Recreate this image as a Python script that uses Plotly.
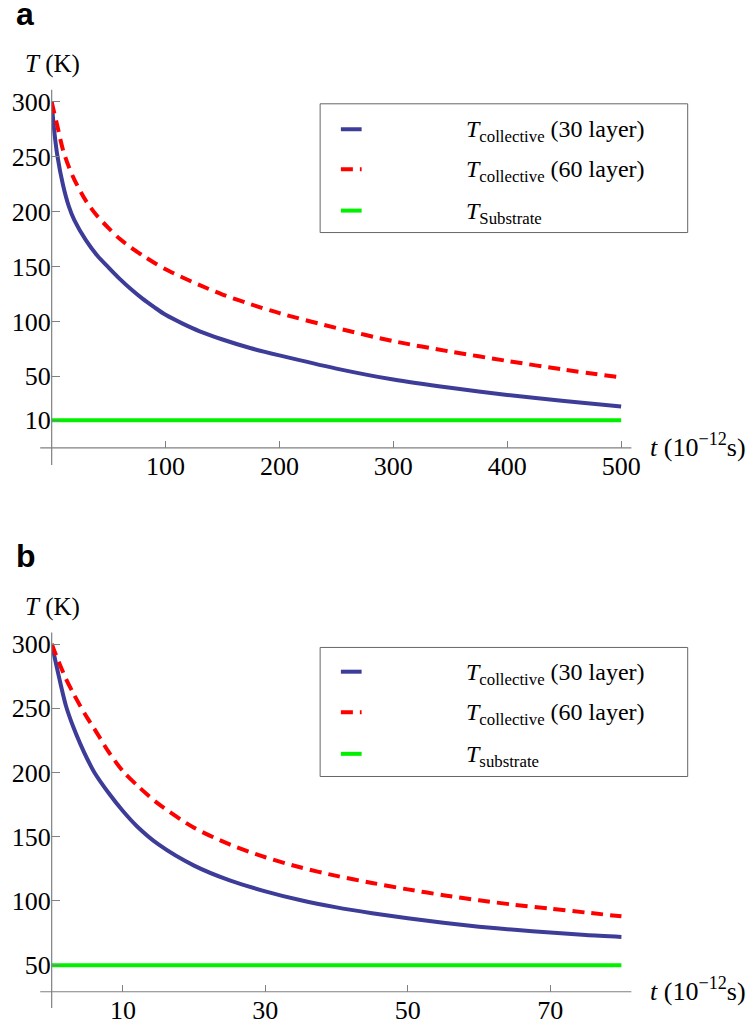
import plotly.graph_objects as go

W, H = 754, 1029

# ---- panel a: 0-500 ps, substrate at 10 K ----
t_a = [0, 2, 5, 10, 15, 20, 30, 40, 50, 60, 70, 80, 90, 100, 115, 130, 150, 175, 200,
       250, 300, 350, 400, 450, 500]
T30_a = [300, 276, 251, 224, 205, 192, 174, 160, 149, 138.5, 129, 120.5, 113, 106, 98,
         91, 83.5, 75.5, 69, 57, 47, 39.5, 33, 27.5, 22.5]
T60_a = [300, 291, 278, 256, 241, 229, 210, 196, 185, 175, 167, 160, 153.5, 147.5, 140,
         133, 124.5, 115.5, 107.5, 94, 82, 72.5, 64, 56, 49]
Tsub_a = 10
xticks_a = [100, 200, 300, 400, 500]
yticks_a = [10, 50, 100, 150, 200, 250, 300]

# ---- panel b: 0-80 ps, substrate at 50 K ----
t_b = [0, 1, 2, 3, 4, 5, 6, 8, 10, 12, 15, 20, 25, 30, 35, 40, 45, 50, 55, 60, 65, 70, 75, 80]
T30_b = [300, 275, 252, 236, 222.5, 210.5, 200, 184, 170, 158, 144, 127.5, 116, 107.5,
         100.5, 95, 90.5, 86.5, 83, 80, 77.5, 75.5, 73.5, 72]
T60_b = [300, 286, 273, 262, 252, 242.5, 234, 216, 201, 190, 175.5, 157, 144, 134, 126,
         119.5, 114, 109, 104.5, 100.5, 97, 94, 91, 88]
Tsub_b = 50
xticks_b = [10, 30, 50, 70]
yticks_b = [50, 100, 150, 200, 250, 300]

legend_a = ["<i>T</i><sub>collective</sub> (30 layer)",
            "<i>T</i><sub>collective</sub> (60 layer)",
            "<i>T</i><sub>Substrate</sub>"]
legend_b = ["<i>T</i><sub>collective</sub> (30 layer)",
            "<i>T</i><sub>collective</sub> (60 layer)",
            "<i>T</i><sub>substrate</sub>"]

BLUE = "#3d3d99"
RED = "#ff0000"
GREEN = "#00f000"
AXIS = "#808080"
SERIF = "Liberation Serif, Times New Roman, serif"
SANS = "Liberation Sans, Arial, sans-serif"
TICK_FS = 26
LEG_FS = 24
TITLE_FS = 25


def px(x):
    return x / W


def py(y):
    return 1 - y / H


fig = go.Figure()

panels = [
    dict(t=t_a, T30=T30_a, T60=T60_a, Tsub=Tsub_a, xr=[0, 509], yr=[-15.2, 311],
         top=88, bot=446.7, xt=xticks_a, yt=yticks_a, ax="", lab="a", laby=12,
         ylaby=62, leg=legend_a, box=(102, 231), rows=(127.5, 167.5, 209), axbot=464),
    dict(t=t_b, T30=T30_b, T60=T60_b, Tsub=Tsub_b, xr=[0, 81.4], yr=[29.3, 309],
         top=631.7, bot=991.7, xt=xticks_b, yt=yticks_b, ax="2", lab="b", laby=555,
         ylaby=606, leg=legend_b, box=(646.7, 776), rows=(671, 711.7, 753.3), axbot=1008),
]

LEFT, RIGHT = 52.3, 639
shapes = []
annotations = []

for p in panels:
    xa, ya = "x" + p["ax"], "y" + p["ax"]
    tmax = p["t"][-1]
    fig.add_trace(go.Scatter(x=p["t"], y=p["T30"], mode="lines", xaxis=xa, yaxis=ya,
                             line=dict(color=BLUE, width=4, shape="spline", smoothing=0.8),
                             name=p["leg"][0]))
    fig.add_trace(go.Scatter(x=p["t"], y=p["T60"], mode="lines", xaxis=xa, yaxis=ya,
                             line=dict(color=RED, width=4, dash="12px,7px", shape="spline",
                                       smoothing=0.8),
                             name=p["leg"][1]))
    fig.add_trace(go.Scatter(x=[0, tmax], y=[p["Tsub"], p["Tsub"]], mode="lines",
                             xaxis=xa, yaxis=ya, line=dict(color=GREEN, width=4),
                             name=p["leg"][2]))

    dom_y = [py(p["bot"]), py(p["top"])]
    fig.update_layout(**{
        "xaxis" + p["ax"]: dict(domain=[px(LEFT), px(RIGHT)], range=p["xr"], anchor=ya,
                                showgrid=False, zeroline=False, showline=False,
                                ticks="inside", ticklen=7, tickwidth=1, tickcolor=AXIS,
                                tickvals=p["xt"], ticktext=[str(v) for v in p["xt"]],
                                tickfont=dict(family=SERIF, size=TICK_FS, color="black")),
        "yaxis" + p["ax"]: dict(domain=dom_y, range=p["yr"], anchor=xa,
                                showgrid=False, zeroline=False, showline=False,
                                ticks="inside", ticklen=8, tickwidth=1, tickcolor=AXIS,
                                tickvals=p["yt"], ticktext=[str(v) for v in p["yt"]],
                                tickfont=dict(family=SERIF, size=TICK_FS, color="black")),
    })

    # axis lines crossing at the origin, extending slightly past it
    shapes.append(dict(type="line", xref="paper", yref="paper",
                       x0=px(40.7), x1=px(RIGHT), y0=py(p["bot"]), y1=py(p["bot"]),
                       line=dict(color=AXIS, width=1.2)))
    shapes.append(dict(type="line", xref="paper", yref="paper",
                       x0=px(LEFT), x1=px(LEFT), y0=py(p["top"]), y1=py(p["axbot"]),
                       line=dict(color=AXIS, width=1.2)))

    # legend box
    b0, b1 = p["box"]
    shapes.append(dict(type="rect", xref="paper", yref="paper",
                       x0=px(324), x1=px(696), y0=py(b1), y1=py(b0),
                       line=dict(color="#666666", width=1), fillcolor="white"))
    styles = [dict(color=BLUE, width=4), dict(color=RED, width=4, dash="12px,7px"),
              dict(color=GREEN, width=4)]
    for r, st, txt in zip(p["rows"], styles, p["leg"]):
        shapes.append(dict(type="line", xref="paper", yref="paper",
                           x0=px(345), x1=px(366), y0=py(r), y1=py(r), line=st))
        annotations.append(dict(text=txt, xref="paper", yref="paper", x=px(470), y=py(r + 2),
                                xanchor="left", yanchor="middle", showarrow=False,
                                font=dict(family=SERIF, size=LEG_FS, color="black")))

    # panel letter
    annotations.append(dict(text="<b>%s</b>" % p["lab"], xref="paper", yref="paper",
                            x=px(14), y=py(p["laby"]), xanchor="left", yanchor="middle",
                            showarrow=False, font=dict(family=SANS, size=32, color="black")))
    # axis titles
    annotations.append(dict(text="<i>T</i> (K)", xref="paper", yref="paper",
                            x=px(23), y=py(p["ylaby"]), xanchor="left", yanchor="middle",
                            showarrow=False, font=dict(family=SERIF, size=TITLE_FS, color="black")))
    annotations.append(dict(text="<i>t</i> (10<sup>\u221212</sup>s)", xref="paper", yref="paper",
                            x=px(656), y=py(p["bot"] - 2), xanchor="left", yanchor="middle",
                            showarrow=False, font=dict(family=SERIF, size=26, color="black")))

fig.update_layout(width=W, height=H, margin=dict(l=0, r=0, t=0, b=0),
                  paper_bgcolor="white", plot_bgcolor="white", showlegend=False,
                  shapes=shapes, annotations=annotations)

fig.write_html("out.html")
